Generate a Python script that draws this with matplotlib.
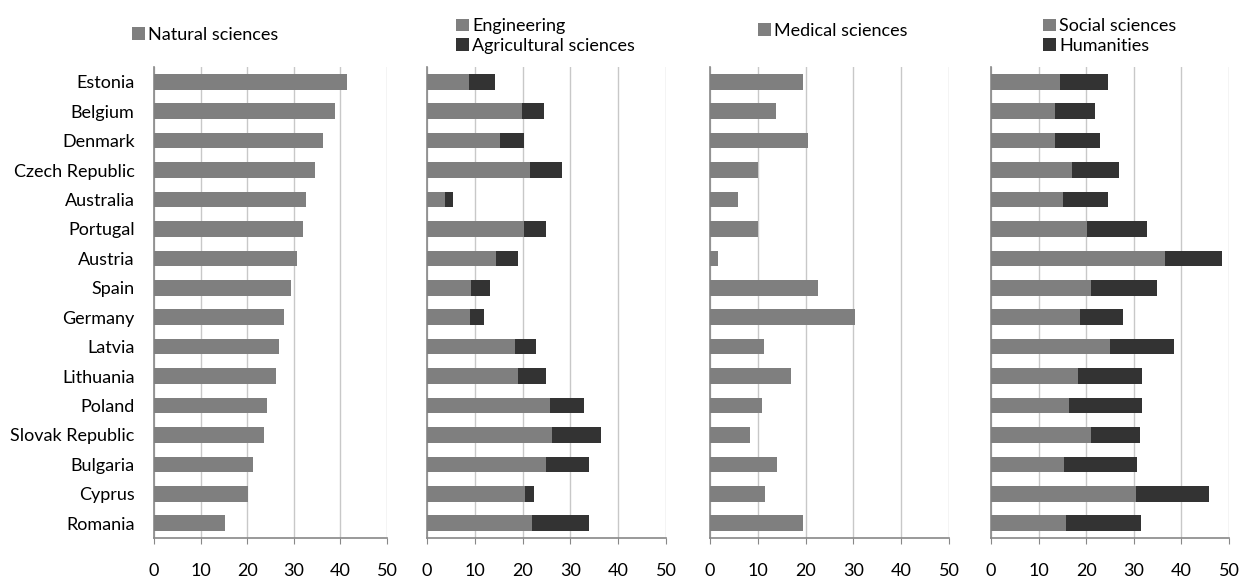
import matplotlib
matplotlib.use("Agg")
import matplotlib.pyplot as plt
import numpy as np

plt.rcParams['font.family'] = ['Lato', 'DejaVu Sans']

countries = ["Estonia", "Belgium", "Denmark", "Czech Republic", "Australia",
             "Portugal", "Austria", "Spain", "Germany", "Latvia", "Lithuania",
             "Poland", "Slovak Republic", "Bulgaria", "Cyprus", "Romania"]

natural = [41.5, 38.8, 36.2, 34.6, 32.7, 32.0, 30.7, 29.4, 27.9, 26.9, 26.1,
           24.2, 23.6, 21.3, 20.1, 15.3]
engineering = [8.7, 19.9, 15.2, 21.6, 3.7, 20.2, 14.4, 9.3, 9.1, 18.5, 19.0,
               25.7, 26.2, 24.8, 20.4, 21.9]
agricultural = [5.5, 4.6, 5.1, 6.6, 1.7, 4.6, 4.6, 3.8, 2.9, 4.4, 6.0,
                7.1, 10.2, 9.0, 1.9, 11.9]
medical = [19.4, 13.8, 20.5, 10.1, 5.9, 10.0, 1.7, 22.5, 30.4, 11.3, 16.9,
           10.9, 8.4, 14.0, 11.6, 19.4]
social = [14.4, 13.4, 13.4, 17.1, 15.1, 20.2, 36.5, 21.0, 18.6, 25.1, 18.3,
          16.4, 21.0, 15.3, 30.5, 15.8]
humanities = [10.1, 8.4, 9.6, 9.7, 9.4, 12.6, 12.1, 13.9, 9.1, 13.4, 13.4,
              15.3, 10.2, 15.3, 15.2, 15.7]

light = "#7f7f7f"
dark = "#333333"

fig = plt.figure(figsize=(12.42, 5.77), dpi=100)
W, H = 1242.0, 577.0
bottom = (H - 538) / H
height = (538 - 67) / H
lefts = [154, 427, 710, 991]
widths = [233, 239, 239, 238]
axes = [fig.add_axes([l / W, bottom, w / W, height]) for l, w in zip(lefts, widths)]

y = np.arange(len(countries))
bh = 0.53

axes[0].barh(y, natural, height=bh, color=light, label="Natural sciences", zorder=3)
axes[1].barh(y, engineering, height=bh, color=light, label="Engineering", zorder=3)
axes[1].barh(y, agricultural, left=engineering, height=bh, color=dark,
             label="Agricultural sciences", zorder=3)
axes[2].barh(y, medical, height=bh, color=light, label="Medical sciences", zorder=3)
axes[3].barh(y, social, height=bh, color=light, label="Social sciences", zorder=3)
axes[3].barh(y, humanities, left=social, height=bh, color=dark,
             label="Humanities", zorder=3)

for i, ax in enumerate(axes):
    ax.set_xlim(0, 50)
    ax.set_ylim(len(countries) - 0.5, -0.5)
    ax.set_xticks([0, 10, 20, 30, 40, 50])
    ax.grid(axis='x', color='#c8c8c8', linewidth=1, zorder=0)
    for s in ['top', 'right']:
        ax.spines[s].set_visible(False)
    for s in ['left', 'bottom']:
        ax.spines[s].set_color('#888888')
        ax.spines[s].set_linewidth(1.2)
    ax.tick_params(axis='x', labelsize=13, length=4, color='#888888', pad=14)
    ax.tick_params(axis='y', length=0, labelsize=13, pad=14)
    if i == 0:
        ax.set_yticks(y)
        ax.set_yticklabels(countries)
    else:
        ax.set_yticks([])

legend_pos = [(132, 35), (456, 36), (758, 31), (1043, 36)]
for ax, (lx, ly) in zip(axes, legend_pos):
    ax.legend(loc='center left', bbox_to_anchor=(lx / W, 1 - ly / H),
              bbox_transform=fig.transFigure, frameon=False, fontsize=13,
              handlelength=0.7, handleheight=0.7, handletextpad=0.2,
              borderpad=0, borderaxespad=0, labelspacing=0.2)

fig.savefig("out.png", dpi=100)
